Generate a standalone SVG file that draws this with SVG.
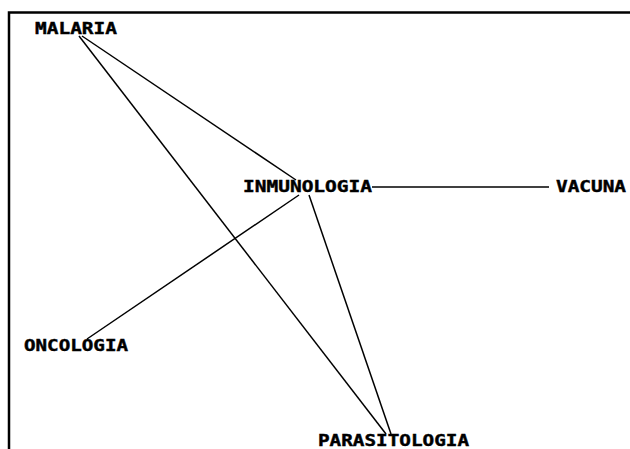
<svg xmlns="http://www.w3.org/2000/svg" width="630" height="449" viewBox="0 0 630 449">
<style>
.lbl{font-family:"DejaVu Sans Mono","Liberation Mono",monospace;font-weight:bold;font-size:15px;fill:#000;stroke:#000;stroke-width:0.4}
.edge{stroke:#000;stroke-width:1.5;fill:none}
.frame{stroke:#000;stroke-width:2.5;fill:none}
</style>
<rect width="630" height="449" fill="#fff"/>
<path class="frame" d="M9,449 V12.5 H630"/>
<g id="connectors">
<line class="edge" x1="82" y1="36" x2="296" y2="180"/>
<line class="edge" x1="79" y1="36" x2="386" y2="434"/>
<line class="edge" x1="309" y1="195" x2="391" y2="434"/>
<line class="edge" x1="299" y1="195" x2="87" y2="339"/>
<line class="edge" x1="372" y1="187" x2="549" y2="187"/>
</g>
<g id="malaria"><text class="lbl" x="35" y="34" textLength="82" lengthAdjust="spacingAndGlyphs">MALARIA</text></g>
<g id="inmunologia"><text class="lbl" x="243" y="192" textLength="129" lengthAdjust="spacingAndGlyphs">INMUNOLOGIA</text></g>
<g id="vacuna"><text class="lbl" x="556" y="192" textLength="70" lengthAdjust="spacingAndGlyphs">VACUNA</text></g>
<g id="oncologia"><text class="lbl" x="24" y="351" textLength="104" lengthAdjust="spacingAndGlyphs">ONCOLOGIA</text></g>
<g id="parasitologia"><text class="lbl" x="318" y="446" textLength="151" lengthAdjust="spacingAndGlyphs">PARASITOLOGIA</text></g>
</svg>
